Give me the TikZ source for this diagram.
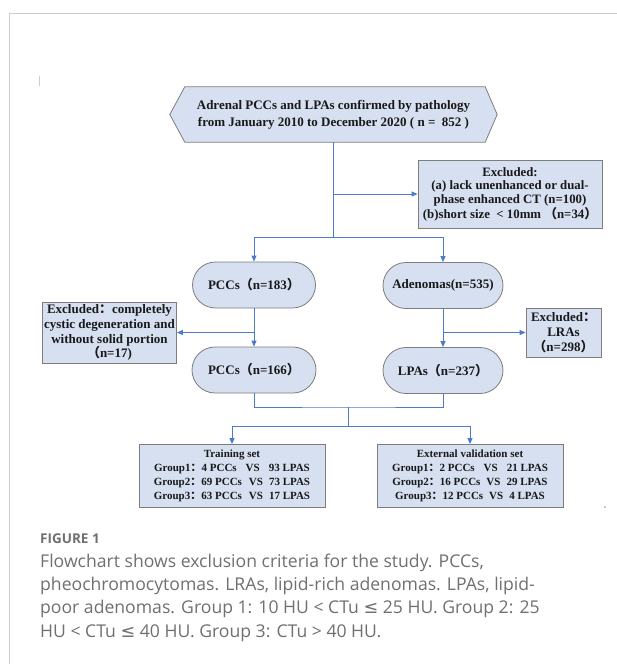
\documentclass[tikz,border=0pt]{standalone}
\usepackage{fontspec}
\setmainfont{Liberation Serif}
\newfontfamily\cjk{Noto Sans CJK SC}
\newfontfamily\capfont{Open Sans}
\newfontfamily\djv{DejaVu Sans}
\usetikzlibrary{shapes.misc,arrows.meta,calc,backgrounds}
\definecolor{boxfill}{RGB}{214,224,241}
\definecolor{boxdraw}{RGB}{125,125,125}
\definecolor{lineblue}{RGB}{74,124,200}
\definecolor{captxt}{RGB}{112,112,112}
\definecolor{framegray}{RGB}{205,205,205}
\newcommand{\zlp}{{\cjk （}}
\newcommand{\zrp}{{\cjk ）}}
\newcommand{\zco}{{\cjk ：}}
\begin{document}
\begin{tikzpicture}[x=1pt,y=-1pt,
  rbox/.style={draw=boxdraw, fill=boxfill, line width=0.8pt, align=center, inner sep=0pt,
    text=black!90, font=\bfseries\fontsize{13}{14.8}\selectfont},
  pill/.style={rounded rectangle, draw=boxdraw, fill=boxfill, line width=0.8pt, align=center,
    inner sep=0pt, text=black!90, font=\bfseries\fontsize{13}{14.8}\selectfont},
  grpbox/.style={rbox, minimum width=186pt, minimum height=63pt, font=\bfseries\fontsize{11}{14}\selectfont},
  conn/.style={draw=lineblue, line width=1pt},
  arr/.style={conn, -{Triangle[length=6pt,width=5pt]}},
  capbody/.style={anchor=base west, inner sep=0pt, text=captxt, font=\capfont\fontsize{17.6}{23}\selectfont}
]
\useasboundingbox (0,0) rectangle (617,664);
% top hexagon text
\node[align=center, inner sep=0pt, minimum width=327pt, minimum height=55pt,
  text=black!90, font=\bfseries\fontsize{13}{17}\selectfont] (hex) at (333.5,114.5)
  {Adrenal PCCs and LPAs confirmed by pathology\\from January 2010 to December 2020 ( n =\ \ 852 )};
\begin{scope}[on background layer]
\fill[white] (0,0) rectangle (617,664);
\draw[framegray, line width=1pt] (9,664) -- (9,13) -- (617,13);
\draw[framegray, line width=0.8pt] (39,76) -- (39,86);
\fill[black!45] (605,507) circle (0.8pt);
\draw[draw=boxdraw, fill=boxfill, line width=0.8pt] (hex.west) -- ($(hex.north west)+(15,0)$)
  -- ($(hex.north east)+(-12,0)$) -- (hex.east) -- ($(hex.south east)+(-12,0)$)
  -- ($(hex.south west)+(15,0)$) -- cycle;
\end{scope}

% exclusion 1
\node[rbox, minimum width=184pt, minimum height=68pt, font=\bfseries\fontsize{12.8}{13.6}\selectfont] (ex1) at (510,194)
  {Excluded:\\(a) lack unenhanced or dual-\\phase enhanced CT (n=100)\\(b)short size\ \ <\ 10mm\ \zlp n=34\zrp};

% pills
\node[pill, minimum width=123pt, minimum height=46pt] (pcc1) at (254,285) {PCCs\zlp n=183\zrp};
\node[pill, minimum width=120pt, minimum height=46pt] (aden) at (443,285.5) {Adenomas(n=535)};
\node[pill, minimum width=124pt, minimum height=46pt] (pcc2) at (254,370) {PCCs\zlp n=166\zrp};
\node[pill, minimum width=120pt, minimum height=46pt] (lpa) at (443,370.5) {LPAs\zlp n=237\zrp};

% side exclusions
\node[rbox, minimum width=134pt, minimum height=61pt] (ex2) at (109.5,332.5)
  {Excluded\zco completely\\cystic degeneration and\\without solid portion\\\zlp n=17)};
\node[rbox, minimum width=75pt, minimum height=49pt] (lra) at (563.5,332.5)
  {Excluded\zco\\LRAs\\\zlp n=298\zrp};

% group boxes
\node[grpbox] (train) at (232,476)
  {Training set\\
   Group1\zco 4 PCCs\hspace{9pt}VS\hspace{9pt}93 LPAS\\
   Group2\zco 69 PCCs\hspace{7pt}VS\hspace{6pt}73 LPAS\\
   Group3\zco 63 PCCs\hspace{7pt}VS\hspace{6pt}17 LPAS};
\node[grpbox] (ext) at (470,476)
  {External validation set\\
   Group1\zco 2 PCCs\hspace{9pt}VS\hspace{9pt}21 LPAS\\
   Group2\zco 16 PCCs\hspace{6pt}VS\hspace{6pt}29 LPAS\\
   Group3\zco 12 PCCs\hspace{6pt}VS\hspace{6pt}4 LPAS};

% connectors
\coordinate (j1) at (333.5,237);
\draw[conn] (hex.south) -- (j1);
\draw[arr] (hex.south |- ex1.west) -- (ex1.west);
\draw[arr] (j1) -| (pcc1.north);
\draw[arr] (j1) -| (aden.north);
\draw[arr] (pcc1.south) -- (pcc2.north);
\draw[arr] (pcc1.south |- ex2.east) -- (ex2.east);
\draw[arr] (aden.south) -- (lpa.north);
\draw[arr] (aden.south |- lra.west) -- (lra.west);
\coordinate (j2) at (348.5,407);
\coordinate (j3) at (348.5,426);
\draw[conn] (pcc2.south) |- (j2) -| (lpa.south);
\draw[conn] (j2) -- (j3);
\draw[arr] (j3) -| (train.north);
\draw[arr] (j3) -| (ext.north);

% caption
\node[anchor=base west, inner sep=0pt, text=captxt, font=\capfont\bfseries\fontsize{13.5}{16}\selectfont] (figlab) at (40,543) {FIGURE 1};
\node[capbody] (cap1) at (40,567) {Flowchart shows exclusion criteria for the study. PCCs,};
\node[capbody] (cap2) at (40,590.3) {pheochromocytomas. LRAs, lipid-rich adenomas. LPAs, lipid-};
\node[capbody] (cap3) at (40,613.6) {poor adenomas. Group 1: 10 HU < CTu {\djv ≤} 25 HU. Group 2: 25};
\node[capbody] (cap4) at (40,637) {HU < CTu {\djv ≤} 40 HU. Group 3: CTu > 40 HU.};
\end{tikzpicture}
\end{document}
